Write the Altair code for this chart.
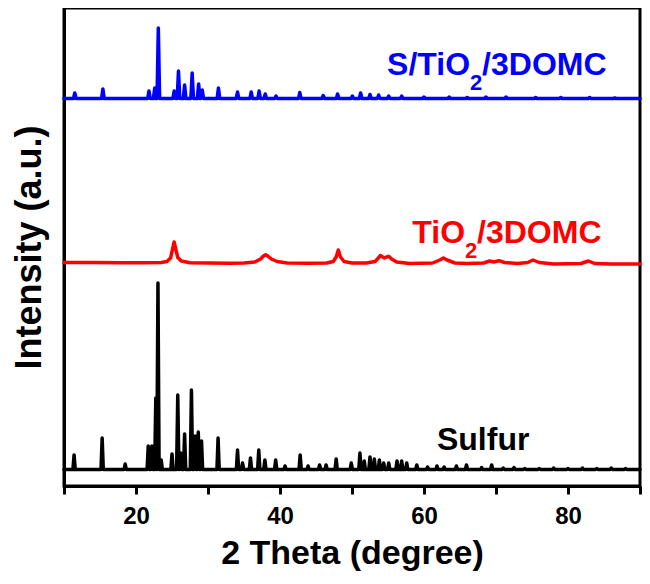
import altair as alt
import pandas as pd

# ---------------- data ----------------
series_names = ["Sulfur", "TiO2/3DOMC", "S/TiO2/3DOMC"]
series_colors = ["#000000", "#FF0000", "#0000FF"]

# Sulfur (stacked at the bottom) : sharp reflections
sulfur_base = 16.5
sulfur_peak_pos = [11.4, 15.3, 18.5, 21.7, 22.2, 22.75, 23.05, 23.5, 25.0, 25.8, 26.2,
                   26.75, 27.7, 28.2, 28.65, 29.1, 31.4, 34.1, 34.8, 35.9, 37.05, 37.9,
                   39.4, 40.7, 42.8, 43.9, 45.5, 46.4, 47.8, 49.9, 51.1, 51.7, 52.5,
                   53.1, 53.8, 54.4, 55.1, 56.25, 56.9, 57.6, 59.0, 60.5, 61.8, 62.8,
                   64.5, 65.9, 68.0, 69.4, 71.0, 72.5, 74.0, 76.0, 78.0, 80.0, 82.0,
                   84.0, 86.0, 88.0]
sulfur_peak_int = [31, 48, 22, 40, 40, 88, 203, 26, 32, 91, 33,
                   52, 96, 50, 54, 45, 48, 36, 23, 28, 36, 26,
                   26, 20, 31, 20, 21, 21, 27, 23, 33, 25, 29,
                   27, 26, 23, 23, 25, 25, 23, 21, 19, 20, 19,
                   20, 21, 18.5, 21, 18, 18.5, 17.5, 17.5, 18, 17.5, 18,
                   17.5, 18, 17.5]

# S/TiO2/3DOMC (top) : sharp reflections
blue_base = 387.5
blue_peak_pos = [11.5, 15.4, 21.8, 22.6, 23.1, 25.3, 25.9, 26.75, 27.8, 28.7, 29.2,
                 31.45, 34.1, 36.0, 37.1, 37.95, 39.45, 42.75, 46.0, 48.0, 50.05,
                 51.2, 52.5, 53.7, 55.1, 56.9, 60.0, 63.5, 66.0, 68.6, 71.4, 75.5,
                 79.0, 83.0, 86.5]
blue_peak_int = [393, 397, 395, 398, 458, 395, 415, 401, 413, 402, 396,
                 398, 394, 394, 395, 392, 390, 393.5, 390.5, 392, 390,
                 393, 391.5, 391, 390, 390, 389, 389, 388.5, 389, 389, 388.5,
                 388.5, 388.5, 388]

# TiO2/3DOMC (middle) : broad anatase reflections
tio2_theta = [10, 14, 18, 21, 23.5, 24.3, 24.8, 25.05, 25.3, 25.55, 25.8, 26.3, 27.5,
              30, 33, 35, 36.5, 37.3, 37.7, 38.0, 38.3, 38.8, 39.6, 41, 44, 46.5,
              47.4, 47.8, 48.1, 48.4, 48.9, 50, 52, 53.2, 53.6, 53.95, 54.5, 54.8,
              55.1, 55.5, 56.2, 58, 61.2, 62.2, 62.7, 63.2, 64.3, 66, 68.3, 69.1,
              69.7, 70.4, 71.2, 73, 74.4, 75.15, 76, 78, 81.8, 82.85, 83.7, 86, 90]
tio2_int = [223.5, 223.5, 223.3, 223.3, 223.5, 224.5, 228, 236, 244, 236, 228.5, 225,
            223.3, 223, 222.8, 223, 224, 227, 230, 231.3, 230, 227, 224.5, 223, 222.8,
            223, 224.5, 229, 236, 229, 224.5, 223, 223, 224.5, 227.5, 230.5, 228, 229,
            229.7, 227, 224, 222.5, 223, 226, 228, 226, 223, 222.5, 223, 225, 224,
            225.3, 223.5, 222.5, 223.5, 226, 223.5, 222, 222.5, 225, 222.5, 222, 222]

# labels of the three patterns
label_main_text = ["S/TiO", "TiO"]
label_theta = [66.4, 65.7]
label_int = [411, 243]
label_color = ["#0000FF", "#FF0000"]
sulfur_label_theta = 61.8
sulfur_label_int = 36

x_tick_values = [10, 20, 30, 40, 50, 60, 70, 80, 90]
X_TITLE = "2 Theta (degree)"
Y_TITLE = "Intensity (a.u.)"


# ---------------- build tables ----------------
def spikes(name, pos, inten, base, hw):
    xs, ys = [10.0], [base]
    for p, v in sorted(zip(pos, inten)):
        xs += [p - hw, p, p + hw]
        ys += [base, v, base]
    xs.append(90.0)
    ys.append(base)
    return pd.DataFrame({"theta": xs, "intensity": ys, "series": name})


df_s = spikes("Sulfur", sulfur_peak_pos, sulfur_peak_int, sulfur_base, 0.16)
df_b = spikes("S/TiO2/3DOMC", blue_peak_pos, blue_peak_int, blue_base, 0.18)
df_t = pd.DataFrame({"theta": tio2_theta, "intensity": tio2_int, "series": "TiO2/3DOMC"})
data = pd.concat([df_s, df_t, df_b], ignore_index=True)
data["idx"] = range(len(data))

x_scale = alt.Scale(domain=[10, 90], nice=False, zero=False)
y_scale = alt.Scale(domain=[0, 478], nice=False, zero=False)

FONT = "Liberation Sans"

lines = alt.Chart(data).mark_line(
    strokeWidth=3.5, strokeJoin="round", strokeCap="round"
).encode(
    x=alt.X("theta:Q", scale=x_scale, title=X_TITLE, axis=alt.Axis(
        values=x_tick_values,
        labelExpr="(datum.value % 20 == 0 && datum.value > 10 && datum.value < 90) ? datum.label : ''",
        titleFont=FONT, titleFontSize=34, titleFontWeight="bold",
        titleColor="black", titlePadding=8,
        labelFont=FONT, labelFontSize=24, labelFontWeight="bold", labelColor="black",
        labelPadding=10, labelFlush=False,
        tickSize=8, tickWidth=3, tickColor="black",
        domainColor="black", domainWidth=3, grid=False)),
    y=alt.Y("intensity:Q", scale=y_scale, title=Y_TITLE, axis=alt.Axis(
        titleFont=FONT, titleFontSize=36, titleFontWeight="bold",
        titleColor="black", titlePadding=16,
        labels=False, ticks=False, tickSize=0,
        domainColor="black", domainWidth=3, grid=False)),
    color=alt.Color("series:N", scale=alt.Scale(domain=series_names, range=series_colors),
                    legend=None),
    order="idx:Q",
)

lab_df = pd.DataFrame({"theta": label_theta, "intensity": label_int,
                       "text": label_main_text, "color": label_color})
sub_df = lab_df.assign(text="2")
rest_df = lab_df.assign(text="/3DOMC")
sul_df = pd.DataFrame({"theta": [sulfur_label_theta], "intensity": [sulfur_label_int],
                       "text": ["Sulfur"], "color": ["#000000"]})


def text_layer(df, **kw):
    return alt.Chart(df).mark_text(font=FONT, fontWeight="bold", baseline="alphabetic", **kw).encode(
        x=alt.X("theta:Q", scale=x_scale, title=X_TITLE),
        y=alt.Y("intensity:Q", scale=y_scale, title=Y_TITLE),
        text="text:N",
        color=alt.Color("color:N", scale=None),
    )


t_main = text_layer(lab_df, align="right", fontSize=32)
t_sub = text_layer(sub_df, align="left", fontSize=22, dy=15)
t_rest = text_layer(rest_df, align="left", fontSize=32, dx=12)
t_sul = text_layer(sul_df, align="left", fontSize=32)

chart = alt.layer(lines, t_main, t_sub, t_rest, t_sul).properties(
    width=576, height=478,
    autosize=alt.AutoSizeParams(type="none"),
    padding={"left": 56, "top": 0, "right": 2, "bottom": 86},
).configure(background="white").configure_view(stroke="black", strokeWidth=3)

chart.save("out.html", embed_options={"renderer": "svg", "actions": False})
